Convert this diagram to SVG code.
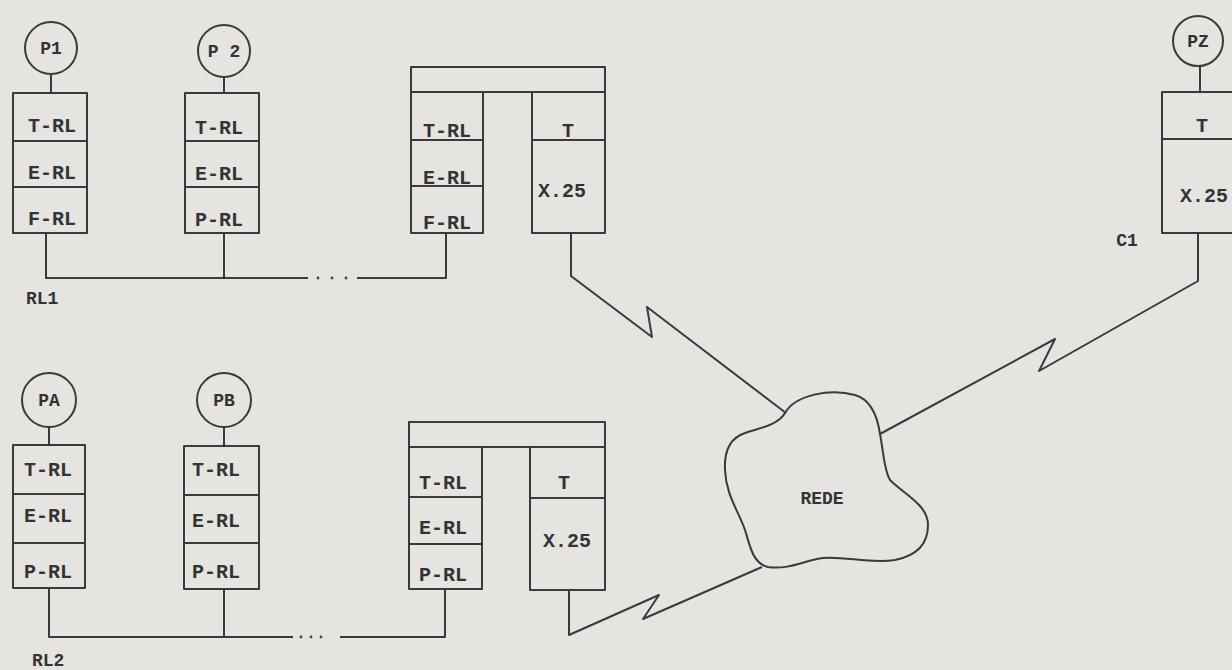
<svg xmlns="http://www.w3.org/2000/svg" width="1232" height="670" viewBox="0 0 1232 670">
<style>
.s{fill:none;stroke:#3a3a3a;stroke-width:2;stroke-linejoin:round}
.t{font-family:"Liberation Mono","DejaVu Sans Mono",monospace;font-size:20px;fill:#333;text-anchor:middle;font-weight:bold}
.c{font-family:"Liberation Mono","DejaVu Sans Mono",monospace;font-size:18px;fill:#333;text-anchor:middle;font-weight:bold}
.d{fill:#444}
</style>
<rect x="0" y="0" width="1232" height="670" fill="#e5e4e1"/>
<g id="connectors">
<path class="s" d="M51 74V93M224 77V93M46 233V278H308M224 233V278M357 278H446V233"/>
<circle class="d" cx="318" cy="278" r="1.4"/><circle class="d" cx="332" cy="278" r="1.4"/><circle class="d" cx="346" cy="278" r="1.4"/>
<path class="s" d="M49 427V445M224 427V446M49 588V637H293M224 589V637M340 637H445V589"/>
<circle class="d" cx="301" cy="637" r="1.4"/><circle class="d" cx="311" cy="637" r="1.4"/><circle class="d" cx="321" cy="637" r="1.4"/>
<path class="s" d="M1200 66V92"/>
<polyline class="s" points="571,233 571,276 652,337 647,307 786,413"/>
<polyline class="s" points="569,590 569,635 659,595 643,619 762,567"/>
<polyline class="s" points="1198,233 1198,281 1039,371 1055,339 880,434"/>
</g>
<g id="P1">
<circle class="s" cx="51" cy="48" r="26"/><text class="c" x="51" y="54">P1</text>
<rect class="s" x="13" y="93" width="74" height="140"/><path class="s" d="M13 141H87M13 187H87"/>
<text class="t" x="52" y="132">T-RL</text><text class="t" x="52" y="179">E-RL</text><text class="t" x="52" y="225">F-RL</text>
</g>
<g id="P2">
<circle class="s" cx="224" cy="51" r="26"/><text class="c" x="224" y="57">P 2</text>
<rect class="s" x="185" y="93" width="74" height="140"/><path class="s" d="M185 141H259M185 187H259"/>
<text class="t" x="219" y="134">T-RL</text><text class="t" x="219" y="180">E-RL</text><text class="t" x="219" y="226">P-RL</text>
</g>
<g id="gateway1">
<rect class="s" x="411" y="67" width="194" height="25"/>
<rect class="s" x="411" y="92" width="72" height="141"/><path class="s" d="M411 140H483M411 186H483"/>
<rect class="s" x="532" y="92" width="73" height="141"/><path class="s" d="M532 140H605"/>
<text class="t" x="447" y="137">T-RL</text><text class="t" x="447" y="184">E-RL</text><text class="t" x="447" y="229">F-RL</text>
<text class="t" x="568" y="137">T</text><text class="t" x="562" y="197">X.25</text>
</g>
<g id="RL1"><text class="c" x="26" y="304" style="text-anchor:start">RL1</text></g>
<g id="PZ">
<circle class="s" cx="1198" cy="41" r="25"/><text class="c" x="1198" y="47">PZ</text>
<rect class="s" x="1162" y="92" width="80" height="141"/><path class="s" d="M1162 139H1242"/>
<text class="t" x="1202" y="132">T</text><text class="t" x="1204" y="202">X.25</text>
</g>
<g id="C1"><text class="c" x="1127" y="246">C1</text></g>
<g id="PA">
<circle class="s" cx="49" cy="400" r="27"/><text class="c" x="49" y="406">PA</text>
<rect class="s" x="13" y="445" width="72" height="143"/><path class="s" d="M13 494H85M13 543H85"/>
<text class="t" x="48" y="476">T-RL</text><text class="t" x="48" y="522">E-RL</text><text class="t" x="48" y="578">P-RL</text>
</g>
<g id="PB">
<circle class="s" cx="224" cy="400" r="27"/><text class="c" x="224" y="406">PB</text>
<rect class="s" x="184" y="446" width="75" height="143"/><path class="s" d="M184 495H259M184 543H259"/>
<text class="t" x="216" y="476">T-RL</text><text class="t" x="216" y="527">E-RL</text><text class="t" x="216" y="578">P-RL</text>
</g>
<g id="gateway2">
<rect class="s" x="409" y="422" width="196" height="25"/>
<rect class="s" x="409" y="447" width="73" height="142"/><path class="s" d="M409 497H482M409 544H482"/>
<rect class="s" x="530" y="447" width="75" height="143"/><path class="s" d="M530 498H605"/>
<text class="t" x="443" y="489">T-RL</text><text class="t" x="443" y="534">E-RL</text><text class="t" x="443" y="581">P-RL</text>
<text class="t" x="564" y="489">T</text><text class="t" x="567" y="547">X.25</text>
</g>
<g id="RL2"><text class="c" x="32" y="666" style="text-anchor:start">RL2</text></g>
<g id="REDE">
<path class="s" d="M785,413 C795,395 830,388 855,395 C872,400 878,420 880,434 C884,455 884,470 890,480 C905,495 928,505 928,525 C928,545 915,556 895,560 C870,564 845,556 823,558 C805,560 790,570 768,567 C752,563 750,545 745,530 C738,510 726,495 725,470 C724,450 730,438 745,433 C760,428 778,425 785,413 Z"/>
<text class="c" x="822" y="504">REDE</text>
</g>
</svg>
